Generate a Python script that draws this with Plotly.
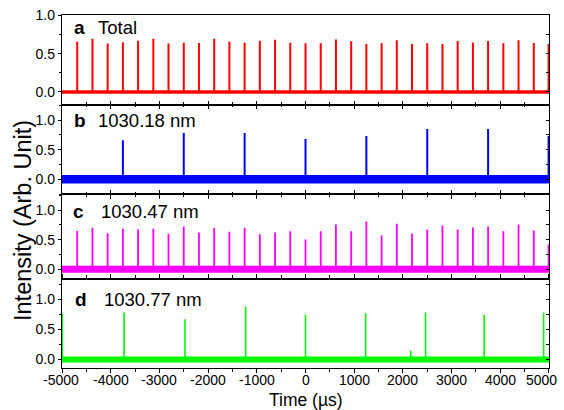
import plotly.graph_objects as go

# ---------------- data ----------------
# spike times (µs) of the regular pulse train (panels a and c)
t_train = [-4688, -4375, -4063, -3750, -3438, -3125, -2813, -2500, -2188, -1875,
           -1563, -1250, -938, -625, -313, 0, 313, 625, 938, 1250,
           1563, 1875, 2188, 2500, 2813, 3125, 3438, 3750, 4063, 4375,
           4688, 4992]
h_total = [0.655, 0.694, 0.633, 0.650, 0.668, 0.694, 0.633, 0.642, 0.638, 0.694,
           0.655, 0.642, 0.668, 0.681, 0.643, 0.637, 0.637, 0.685, 0.663, 0.628,
           0.637, 0.676, 0.628, 0.637, 0.628, 0.667, 0.645, 0.667, 0.637, 0.676,
           0.641, 0.628]
h_1030_47 = [0.65, 0.70, 0.61, 0.685, 0.67, 0.685, 0.60, 0.72, 0.62, 0.70,
             0.635, 0.70, 0.59, 0.62, 0.64, 0.505, 0.64, 0.755, 0.64, 0.805,
             0.57, 0.77, 0.605, 0.67, 0.74, 0.67, 0.705, 0.72, 0.64, 0.755,
             0.655, 0.42]
t_1030_18 = [-3750, -2500, -1250, 0, 1250, 2500, 3750, 4992]
h_1030_18 = [0.66, 0.78, 0.78, 0.68, 0.73, 0.85, 0.85, 0.73]
t_1030_77 = [-4995, -3725, -2475, -1230, 0, 1235, 2160, 2465, 3670, 4890]
h_1030_77 = [0.765, 0.78, 0.667, 0.88, 0.738, 0.77, 0.15, 0.78, 0.743, 0.78]

panel_letters = ["a", "b", "c", "d"]
panel_names = ["Total", "1030.18 nm", "1030.47 nm", "1030.77 nm"]
x_ticks = [-5000, -4000, -3000, -2000, -1000, 0, 1000, 2000, 3000, 4000, 5000]
x_ticktext = ["-5000", "-4000", "-3000", "-2000", "-1000", "0", "1000", "2000",
              "3000", "4000", "5000"]
y_ticks = [0.0, 0.5, 1.0]

# ---------------- styling ----------------
FONT = "Liberation Sans, Arial, Helvetica, sans-serif"
W, H = 564, 410
ML, MR, MT, MB = 62, 15, 15, 42
PW, PH = W - ML - MR, H - MT - MB

series = [
    dict(t=t_train, h=h_total, color="#ff0000", base_w=3.5, spike_w=2.0),
    dict(t=t_1030_18, h=h_1030_18, color="#0000ff", base_w=8.5, spike_w=2.0),
    dict(t=t_train, h=h_1030_47, color="#ff00ff", base_w=7.0, spike_w=1.8),
    dict(t=t_1030_77, h=h_1030_77, color="#00ff00", base_w=6.0, spike_w=1.6),
]
# panel pixel boundaries (top, bottom) and y ranges
panel_px = [(15, 104.7), (104.7, 194.3), (194.3, 278.7), (278.7, 368)]
y_ranges = [[-0.166, 1.005], [-0.252, 1.258], [-0.158, 1.265], [-0.14, 1.342]]
label_x = [(73, 97), (73, 96.7), (72, 100), (74, 103)]
label_y = [27.5, 121, 211, 299]
X_RANGE = [-5000.5, 5000.5]


def py2paper(py):
    return (H - MB - py) / PH


def px2paper(px):
    return (px - ML) / PW


fig = go.Figure()
layout = dict(
    width=W, height=H,
    margin=dict(l=ML, r=MR, t=MT, b=MB, autoexpand=False),
    paper_bgcolor="white", plot_bgcolor="white",
    showlegend=False,
    font=dict(family=FONT, color="black", size=14),
)
annotations = []

for i, s in enumerate(series):
    n = i + 1
    xa = "x" if n == 1 else f"x{n}"
    ya = "y" if n == 1 else f"y{n}"
    yr_name = f"y{n + 4}"
    # baseline (noise band) on the right overlay axis
    fig.add_trace(go.Scatter(
        x=[-5000, 5000], y=[0, 0], mode="lines",
        line=dict(color=s["color"], width=s["base_w"]),
        xaxis=xa, yaxis=yr_name, hoverinfo="skip"))
    # spikes
    xs, ys = [], []
    for t, h in zip(s["t"], s["h"]):
        xs += [t, t, None]
        ys += [0, h, None]
    fig.add_trace(go.Scatter(
        x=xs, y=ys, mode="lines",
        line=dict(color=s["color"], width=s["spike_w"]),
        xaxis=xa, yaxis=ya, connectgaps=False))

    top, bot = panel_px[i]
    dom = [py2paper(bot), py2paper(top)]
    xkey = "xaxis" if n == 1 else f"xaxis{n}"
    ykey = "yaxis" if n == 1 else f"yaxis{n}"
    yrkey = f"yaxis{n + 4}"
    last = (n == 4)
    layout[xkey] = dict(
        domain=[0, 1], anchor=ya, range=X_RANGE,
        tickvals=x_ticks, showticklabels=False,
        ticks="outside" if last else "inside",
        ticklen=4, tickwidth=1.2, tickcolor="black",
        minor=dict(dtick=500, tick0=0, ticks="outside" if last else "inside",
                   ticklen=2.5, tickwidth=1.2, tickcolor="black"),
        showline=True, linecolor="black", linewidth=1.4,
        mirror=True if n == 1 else "ticks",
        showgrid=False, zeroline=False,
    )
    layout[ykey] = dict(
        domain=dom, anchor=xa, range=y_ranges[i],
        tickvals=y_ticks, ticktext=["%.1f" % v for v in y_ticks],
        ticks="outside", ticklen=3, tickwidth=1.2, tickcolor="black",
        minor=dict(dtick=0.25, tick0=0, ticks="outside", ticklen=2,
                   tickwidth=1.2, tickcolor="black"),
        showline=True, linecolor="black", linewidth=1.4, mirror=True,
        showgrid=False, zeroline=False,
        tickfont=dict(size=14, family=FONT, color="black"),
    )
    layout[yrkey] = dict(
        overlaying=ya, side="right", anchor=xa, range=y_ranges[i],
        tickvals=y_ticks, showticklabels=False,
        ticks="inside", ticklen=3, tickwidth=1.2, tickcolor="black",
        minor=dict(dtick=0.25, tick0=0, ticks="inside", ticklen=3,
                   tickwidth=1.2, tickcolor="black"),
        showline=False, showgrid=False, zeroline=False,
    )
    lx, tx = label_x[i]
    yy = py2paper(label_y[i])
    annotations.append(dict(
        text="<b>%s</b>" % panel_letters[i], xref="paper", yref="paper",
        x=px2paper(lx), y=yy, xanchor="left", yanchor="middle",
        showarrow=False, borderpad=0,
        font=dict(size=19, family=FONT, color="black")))
    annotations.append(dict(
        text=panel_names[i], xref="paper", yref="paper",
        x=px2paper(tx), y=yy, xanchor="left", yanchor="middle",
        showarrow=False, borderpad=0,
        font=dict(size=18.5, family=FONT, color="black")))

# x tick labels of the bottom panel, placed through the bottom x axis
for v, txt in zip(x_ticks, x_ticktext):
    annotations.append(dict(
        text=txt, xref="x4", yref="paper", x=v, y=py2paper(379.5),
        xanchor="center", yanchor="middle", showarrow=False, borderpad=0,
        xshift=-7 if v == x_ticks[-1] else (-1 if v == x_ticks[0] else 0),
        font=dict(size=14, family=FONT, color="black")))

annotations.append(dict(
    text="Time (\u00b5s)", xref="paper", yref="paper",
    x=px2paper(305.5), y=py2paper(399.5), xanchor="center", yanchor="middle",
    showarrow=False, borderpad=0,
    font=dict(size=17.5, family=FONT, color="black")))
annotations.append(dict(
    text="Intensity (Arb. Unit)", xref="paper", yref="paper",
    x=px2paper(23), y=py2paper(221), xanchor="center", yanchor="middle",
    textangle=-90, showarrow=False, borderpad=0,
    font=dict(size=23.5, family=FONT, color="black")))

layout["annotations"] = annotations
fig.update_layout(**layout)
fig.write_html("out.html")
